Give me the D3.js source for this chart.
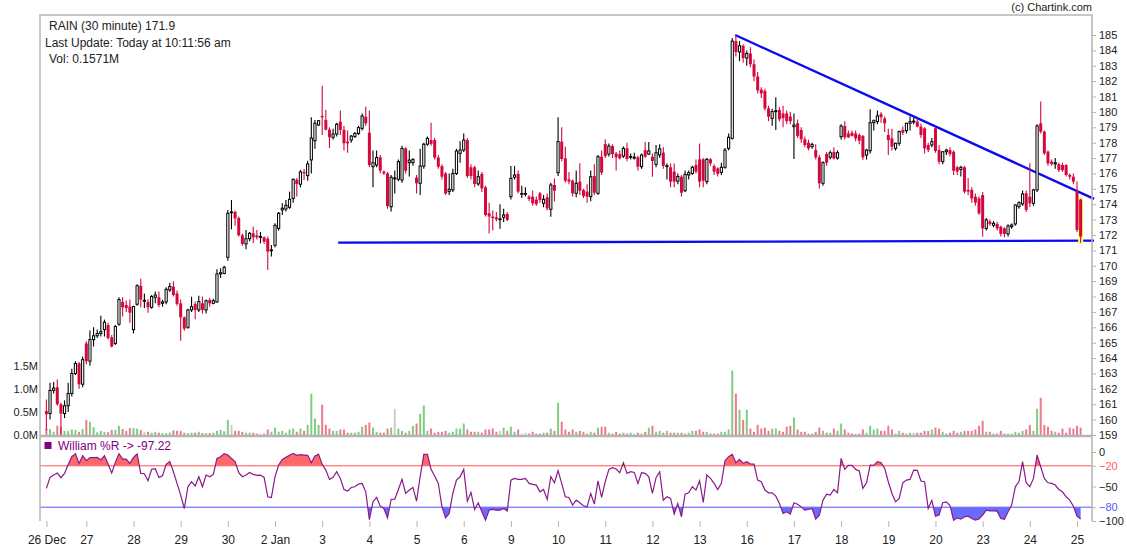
<!DOCTYPE html>
<html>
<head>
<meta charset="utf-8">
<script src="https://cdn.jsdelivr.net/npm/d3@7"></script>
<style>
  body { margin: 0; background: #fff; }
  svg { display: block; }
  text { font-family: "Liberation Sans", Arial, sans-serif; }
</style>
</head>
<body>
<svg id="chart" width="1127" height="551"></svg>
<script>
// ---- session labels (first 30-minute bar of each trading day) ----
const dayLabels = ["26 Dec","27","28","29","30","2 Jan","3","4","5","6","9","10","11","12","13","16","17","18","19","20","23","24","25"];
const dayStarts = [0,11,24,37,50,63,76,89,102,115,128,141,154,167,180,193,206,219,232,245,258,271,284];

// ---- OHLC, one row per trading day ----
const opens = [
  160.55,160.4,161.9,162.1,161.0,160.4,160.9,161.7,163.0,163.65,162.3,
  164.95,163.8,165.2,165.45,165.6,165.85,166.15,165.35,164.95,166.2,167.65,167.45,167.35,
  165.85,167.5,168.7,167.75,167.65,167.3,167.95,167.95,167.56,167.65,168.43,168.65,168.2,
  167.56,166.65,166.0,167.13,167.52,167.13,167.56,167.13,167.78,167.56,167.65,169.47,169.5,
  170.55,173.5,173.5,173.1,171.98,171.42,171.76,172.11,171.98,171.9,171.85,171.76,170.98,
  171.33,172.43,173.63,173.69,173.8,174.38,175.58,175.3,176.1,175.86,176.88,178.13,179.15,
  179.74,179.48,178.85,178.35,178.56,179.37,178.83,178.07,178.17,178.4,178.6,178.93,179.69,
  178.65,176.44,176.55,177.05,176.12,176.0,173.84,175.7,175.62,175.58,177.63,176.7,176.7,
  175.73,175.36,176.48,177.9,178.17,178.17,177.03,176.48,176.0,174.82,174.93,176.0,177.31,
  177.52,178.17,176.4,176.4,175.32,175.97,175.1,173.41,173.2,173.15,173.05,173.15,173.37,
  174.49,175.75,175.97,174.7,174.7,174.49,174.49,174.3,174.71,174.06,174.45,173.67,175.25,
  176.05,178.07,176.98,175.62,175.53,174.71,175.47,174.92,174.82,174.49,175.83,174.71,177.09,
  177.91,177.26,177.78,177.3,177.26,177.13,177.63,177.05,177.05,177.05,176.44,177.52,177.26,
  177.09,176.59,177.2,177.35,176.45,176.4,176.12,175.5,175.79,174.88,175.9,176.0,176.55,
  176.92,176.92,175.47,176.92,176.48,176.33,176.07,176.4,177.63,178.28,184.6,183.9,184.3,
  183.5,183.8,183.1,182.3,181.45,181.36,180.23,179.58,180.02,180.13,179.9,179.9,179.7,
  179.04,179.26,178.83,178.22,178.0,177.74,177.53,177.05,175.36,177.27,177.05,177.4,177.0,
  178.39,179.08,178.6,178.65,178.6,178.5,178.43,177.2,177.48,179.3,179.37,179.87,179.58,
  178.5,178.28,177.63,177.96,178.83,178.78,179.26,179.4,179.37,179.04,178.93,177.85,177.85,
  178.93,177.52,176.77,177.41,177.52,177.41,176.4,176.26,176.4,174.93,174.93,174.49,174.38,
  174.6,172.43,172.87,172.63,172.72,172.54,172.43,172.07,172.54,172.72,173.84,174.02,174.71,
  174.49,174.06,174.93,179.26,178.72,177.42,176.77,176.62,176.6,176.55,176.55,175.9,175.79,
  174.88,174.3
];
const highs = [
  161.3,162.4,162.45,162.6,161.1,161.25,162.4,163.3,163.8,163.75,164.1,
  165.1,165.8,166.0,165.85,166.75,166.5,166.3,165.5,166.15,167.95,167.95,167.75,167.8,
  167.4,168.8,169.15,168.2,167.82,168.1,168.32,168.32,167.8,168.6,168.9,169.0,168.4,
  167.8,166.7,167.2,167.98,167.67,168.05,168.0,167.8,167.9,167.85,169.77,169.84,170.0,
  173.63,174.27,173.6,173.2,172.1,172.33,172.2,172.54,172.33,172.2,171.9,171.9,171.35,
  172.76,173.5,174.06,174.27,174.82,175.68,175.7,176.23,176.29,176.83,179.65,179.48,179.48,
  181.7,180.12,179.0,178.9,179.3,180.1,179.1,178.8,178.5,178.7,179.1,179.9,180.34,
  180.1,177.5,177.5,177.2,176.2,176.1,175.9,176.2,176.9,177.8,177.7,177.5,177.0,
  175.9,177.6,178.0,178.4,179.3,178.3,177.2,176.6,176.1,176.0,176.3,177.6,178.1,
  178.6,178.3,176.6,176.5,176.2,176.1,175.2,174.1,173.6,173.5,174.0,173.7,173.5,
  176.48,176.48,176.2,175.2,175.1,174.6,174.9,174.5,174.8,174.6,174.7,175.4,175.68,
  179.65,179.0,177.74,176.1,175.6,176.2,176.66,175.0,175.3,176.2,176.6,177.2,177.5,
  178.22,177.95,177.9,177.4,177.5,177.75,178.0,177.3,177.35,177.15,177.3,178.05,178.05,
  177.3,177.85,177.9,177.7,176.65,176.65,176.65,176.0,175.9,176.2,176.2,176.5,176.9,
  177.95,177.0,177.0,177.0,176.6,176.4,176.7,177.65,178.6,184.8,185.0,184.6,184.4,
  184.0,184.2,183.4,182.6,181.6,181.5,180.4,180.2,180.95,180.3,180.4,180.1,180.0,
  179.9,179.5,179.0,178.4,178.2,178.0,177.9,177.2,176.8,177.4,177.5,177.7,177.5,
  179.2,179.4,178.8,178.8,178.8,178.6,178.5,177.6,180.17,179.5,180.1,180.0,179.7,
  178.9,178.9,178.0,178.8,179.05,179.3,179.7,179.6,179.6,179.25,179.0,178.0,178.3,
  179.04,177.85,177.45,177.6,177.7,177.5,176.5,176.5,176.5,175.7,175.1,174.7,174.5,
  174.8,173.1,173.0,172.9,172.85,172.6,172.5,172.7,172.75,174.0,174.2,174.9,174.9,
  176.66,175.0,179.2,180.67,178.8,177.5,176.9,177.0,176.7,176.7,176.6,176.0,176.0,
  175.5,174.35
];
const lows = [
  159.3,160.0,161.7,160.9,159.0,160.1,160.5,161.5,162.9,162.0,162.1,
  163.6,163.5,164.75,165.3,165.4,165.4,165.2,164.68,164.85,166.1,166.7,167.0,166.3,
  165.6,167.4,167.3,167.25,166.95,167.2,167.56,167.3,167.34,167.5,168.3,168.0,167.4,
  165.13,165.78,165.9,167.0,166.52,167.0,166.9,166.9,167.34,167.5,167.6,169.2,169.45,
  170.33,172.37,172.6,171.9,171.3,171.07,171.6,171.46,171.7,171.46,171.42,169.73,170.6,
  171.2,172.3,173.3,173.52,173.7,174.1,174.5,175.1,175.58,175.53,176.0,177.6,179.1,
  178.5,178.8,177.65,178.2,178.4,178.5,177.5,177.35,178.0,178.3,178.5,178.8,179.1,
  176.4,175.1,176.4,176.0,175.9,173.7,173.52,174.7,175.5,175.4,176.0,175.8,176.5,
  174.7,174.6,176.3,177.8,177.8,176.9,176.3,175.6,174.6,174.6,174.8,175.9,176.7,
  177.4,175.7,175.6,175.1,175.2,174.8,173.2,172.1,172.3,172.9,172.4,172.85,172.9,
  174.3,175.6,174.7,174.4,174.5,174.2,173.9,173.9,174.1,173.8,173.6,173.19,174.17,
  175.84,176.8,175.4,175.3,174.5,174.45,174.6,174.4,174.1,174.2,174.6,174.6,175.9,
  177.0,177.1,177.0,176.2,176.9,177.0,176.8,176.9,176.9,176.2,176.3,177.0,177.2,
  175.79,176.4,177.0,176.3,175.6,175.1,175.1,175.3,174.5,174.8,175.6,175.9,176.0,
  175.1,175.1,175.3,176.5,175.9,175.8,175.9,176.3,177.5,178.2,183.6,183.3,183.2,
  183.0,182.9,182.0,181.2,180.9,180.1,179.4,179.1,178.82,179.4,179.0,179.2,179.2,
  176.94,178.3,178.0,177.7,177.5,177.6,176.9,175.03,175.2,176.5,176.9,176.9,176.9,
  178.2,178.2,178.3,178.4,178.1,177.9,176.88,176.9,177.3,178.8,179.2,179.3,178.7,
  177.2,177.5,177.5,177.8,178.5,178.6,178.8,179.2,179.0,178.3,177.3,177.4,177.7,
  177.35,176.6,176.6,177.2,177.1,175.9,175.9,175.8,174.7,174.6,174.1,173.9,173.3,
  171.89,172.3,172.6,172.5,172.3,171.9,171.85,171.9,172.4,172.6,173.7,173.9,173.5,
  173.8,173.9,174.8,178.6,177.2,176.5,176.5,176.3,176.1,176.1,175.8,175.6,175.3,
  172.2,171.5
];
const closes = [
  160.35,161.9,162.05,161.0,160.4,160.9,161.7,163.0,163.65,162.3,163.9,
  163.8,165.2,165.45,165.6,165.72,166.33,165.3,164.75,166.05,167.8,167.3,167.25,166.95,
  167.35,168.7,167.8,167.75,167.3,168.0,168.1,167.45,167.65,168.47,168.65,168.1,167.52,
  166.65,165.91,167.13,167.34,167.13,167.67,167.13,167.73,167.56,167.73,169.47,169.55,169.9,
  173.41,173.5,173.08,171.98,171.42,171.76,172.11,171.85,171.85,171.9,171.57,170.92,171.03,
  172.63,173.41,173.74,173.93,174.32,175.62,175.32,176.1,176.01,176.62,178.3,179.26,179.43,
  179.65,178.85,178.35,178.56,179.2,178.83,177.96,177.96,178.43,178.6,178.98,179.73,179.26,
  176.55,176.7,177.03,176.18,176.0,173.88,175.75,175.7,176.77,177.63,176.18,176.87,176.9,
  175.36,176.48,177.9,178.28,177.92,177.03,176.44,175.79,174.7,174.97,176.0,177.46,177.52,
  178.17,175.83,175.83,175.32,175.79,175.03,173.3,173.2,173.1,173.02,173.05,173.3,172.98,
  175.68,175.9,174.82,174.7,174.7,174.34,174.06,174.0,174.28,174.32,173.73,175.25,174.88,
  178.07,176.94,175.53,175.47,174.71,175.36,174.88,174.53,174.49,175.79,174.75,177.09,176.05,
  177.13,177.78,177.26,177.05,176.98,177.63,176.94,177.1,177.05,176.44,177.2,177.09,177.46,
  176.81,177.35,177.6,176.5,176.5,175.47,175.47,175.8,174.75,175.94,176.05,176.4,176.12,
  175.47,175.53,176.92,176.66,176.12,175.97,176.4,177.52,178.35,184.6,183.9,184.3,183.5,
  183.8,183.1,182.3,181.4,181.2,180.23,179.69,180.02,180.08,179.52,179.6,179.4,179.4,
  179.15,178.44,178.22,177.85,177.63,177.89,177.05,175.36,176.7,176.7,177.35,176.98,177.35,
  179.08,178.35,178.35,178.44,178.28,178.13,177.05,177.52,179.3,179.43,179.74,179.65,179.26,
  178.17,177.74,177.96,178.72,178.65,179.26,179.37,179.4,179.04,178.5,177.63,177.52,178.07,
  177.46,176.77,177.41,177.52,177.26,176.18,176.12,176.4,174.82,174.82,174.38,174.1,173.41,
  172.43,172.98,172.72,172.76,172.43,172.07,172.07,172.59,172.65,173.95,174.1,174.67,173.63,
  174.06,174.93,179.09,178.72,177.31,176.66,176.62,176.7,176.22,176.22,175.9,175.79,175.47,
  172.33,171.9
];

// ---- traded volume per bar, in millions ----
const volumes = [
  0.14,0.13,0.07,0.2,0.18,0.09,0.09,0.12,0.11,0.07,0.13,
  0.33,0.29,0.17,0.06,0.09,0.07,0.06,0.11,0.11,0.2,0.13,0.09,0.15,
  0.15,0.14,0.11,0.07,0.07,0.05,0.07,0.05,0.04,0.04,0.05,0.1,0.09,
  0.09,0.05,0.04,0.05,0.05,0.07,0.04,0.04,0.04,0.05,0.09,0.11,0.08,
  0.33,0.22,0.09,0.09,0.07,0.05,0.05,0.05,0.03,0.03,0.03,0.12,0.07,
  0.16,0.07,0.09,0.05,0.12,0.14,0.07,0.14,0.09,0.22,0.9,0.36,0.22,
  0.66,0.22,0.14,0.09,0.09,0.12,0.12,0.05,0.05,0.05,0.07,0.18,0.22,
  0.27,0.16,0.07,0.05,0.05,0.14,0.16,0.57,0.14,0.09,0.05,0.09,0.2,
  0.25,0.46,0.64,0.09,0.14,0.05,0.07,0.07,0.09,0.05,0.07,0.14,0.14,
  0.25,0.12,0.07,0.07,0.07,0.05,0.12,0.12,0.14,0.07,0.09,0.16,0.09,
  0.18,0.07,0.12,0.03,0.05,0.03,0.07,0.03,0.03,0.05,0.05,0.14,0.09,
  0.7,0.29,0.12,0.07,0.12,0.07,0.09,0.07,0.03,0.07,0.05,0.16,0.18,
  0.18,0.05,0.03,0.07,0.03,0.05,0.03,0.05,0.03,0.05,0.03,0.07,0.16,
  0.2,0.07,0.09,0.05,0.09,0.05,0.05,0.05,0.05,0.03,0.05,0.09,0.09,
  0.12,0.07,0.07,0.03,0.03,0.03,0.07,0.07,0.12,1.4,0.9,0.55,0.33,
  0.55,0.14,0.07,0.22,0.14,0.16,0.09,0.14,0.14,0.09,0.07,0.18,0.2,
  0.38,0.12,0.07,0.07,0.03,0.03,0.07,0.16,0.09,0.05,0.05,0.14,0.09,
  0.25,0.12,0.05,0.03,0.02,0.03,0.12,0.05,0.2,0.12,0.14,0.09,0.09,
  0.2,0.12,0.03,0.09,0.05,0.03,0.05,0.05,0.05,0.05,0.09,0.09,0.12,
  0.16,0.14,0.07,0.03,0.05,0.09,0.05,0.07,0.09,0.09,0.09,0.12,0.2,
  0.31,0.07,0.07,0.03,0.03,0.09,0.03,0.03,0.03,0.07,0.05,0.09,0.12,
  0.22,0.09,0.57,0.81,0.22,0.18,0.09,0.07,0.05,0.14,0.05,0.16,0.14,
  0.2,0.16
];

// ---- Williams %R (14) per bar ----
const williamsR = [
  -52.8,-36.8,-33.4,-30.5,-37.3,-31,-18,-6.8,-2.4,-16.5,-5.3,
  -12.6,-8.2,-8.2,-7.8,-11.6,-5.3,-17.4,-30.5,-15,-2.4,-10.2,-10.2,-16.5,
  -7.8,-2.9,-31,-31.5,-41.7,-25.2,-24.2,-36.8,-34.4,-17.9,-13.6,-28.6,-45.5,
  -62.5,-81.9,-50.4,-43.1,-49.4,-35.9,-50.4,-33.4,-35.9,-32.5,-9.2,-6.8,-2.4,
  -4.4,-9.2,-14,-30,-35.9,-33.4,-29.6,-32.5,-33.9,-33.4,-36.8,-64.9,-65.9,
  -35.9,-18.9,-10.7,-7.8,-4.8,-1.9,-4.8,-3.9,-4.4,-4.8,-15.5,-5.8,-3.4,
  -17.9,-26.2,-39.7,-36.8,-28.6,-38.3,-54.3,-56.7,-51.4,-50.4,-46.5,-45.5,-57.7,
  -97.9,-72.2,-65.9,-78.5,-81.9,-95.4,-68.8,-68.3,-54.3,-39.7,-60.1,-55.2,-51.4,
  -71.2,-35.9,-3.4,-3.4,-25.2,-34.9,-45.5,-79.5,-95.4,-89.1,-60.1,-40.7,-35.9,
  -25.2,-71.2,-58.6,-83.3,-73.6,-86.7,-98.8,-84.3,-83.3,-84.3,-84.3,-81.9,-85.3,
  -40.7,-38.3,-39.7,-39.7,-38.3,-45.5,-47,-48,-57.7,-54.3,-68.8,-35.9,-44.6,
  -27,-45.5,-64.9,-65.9,-77,-69.8,-73.6,-78,-79.5,-60.1,-75.6,-41.7,-65.9,
  -43.1,-25.2,-22.8,-24.7,-30,-15.5,-31,-28.6,-29.6,-45.5,-30,-31,-35.9,
  -60.1,-37.3,-28.6,-69.8,-64.9,-67.3,-90.1,-74.6,-94,-61,-59.1,-50.4,-55.2,
  -41.7,-73.2,-33.4,-38.3,-45.5,-54.3,-45.5,-12.6,-6.8,-3.4,-15.5,-10.7,-16.5,
  -14,-17.4,-17.4,-40.7,-43.1,-55.2,-59.1,-59.1,-64,-74.6,-89.1,-86.7,-90.1,
  -73.6,-75.6,-79.5,-84.3,-83.3,-81.9,-97.4,-91.6,-69.8,-61,-62.5,-54.3,-59.1,
  -9.2,-25.2,-19.4,-19.4,-25.2,-27.6,-52.8,-44.6,-18.9,-19.4,-14,-15.5,-23.7,
  -43.1,-60.1,-72.2,-67.3,-44.6,-40.7,-39.7,-26.2,-26.5,-42,-43,-82,-70,
  -93,-91.5,-73.6,-72.2,-77.5,-98.8,-95.4,-97.4,-94,-93,-96.4,-98.8,-96.9,
  -91.6,-84.3,-85.3,-85.3,-85.7,-96.4,-97.4,-86.7,-77,-50.4,-43.1,-14,-44.6,
  -50.4,-38.3,-4.4,-21.3,-38.3,-44.6,-45.5,-47.9,-54.3,-57.7,-64.9,-69.8,-78.5,
  -93,-97.22
];

// ---- axis ticks and reference levels ----
const priceTicks = d3.range(159, 186);
const volumeTicks = [0, 0.5, 1.0, 1.5];
const wrTicks = [0, -20, -50, -80, -100];
const wrUpper = -20, wrLower = -80;

// hand-drawn trend lines: [bar index, price]
const resistanceLine = [[189.8, 185.0], [288.7, 174.35]];
const supportLine = [[80.4, 171.5], [288.7, 171.63]];

// ---------------------------------------------------------------
const svg = d3.select("#chart");
const frame = { left: 40, right: 1092, top: 15, split: 436, bottom: 521 };
const RED = "#d4083c", GRID = "#b4b4b4";

const x = d3.scaleLinear().domain([0, 284]).range([46.4, 1077]);
const yP = d3.scaleLinear().domain([159, 185]).range([435, 35]);
const yV = d3.scaleLinear().domain([0, 1.5]).range([435, 366]);
const yR = d3.scaleLinear().domain([-100, 0]).range([521, 452]);

const bars = opens.map((o, i) => ({ i, o, h: highs[i], l: lows[i], c: closes[i], v: volumes[i] }));
const dir = d => d.c > d.o ? "up" : (d.c < d.o ? "down" : "flat");

// header
const hdr = svg.append("g").attr("font-size", 12).attr("fill", "#222");
hdr.append("text").attr("x", 49).attr("y", 30).text("RAIN (30 minute) 171.9");
hdr.append("text").attr("x", 45).attr("y", 47).text("Last Update: Today at 10:11:56 am");
hdr.append("text").attr("x", 49).attr("y", 63).text("Vol: 0.1571M");
svg.append("text").attr("x", 1092).attr("y", 10.5).attr("text-anchor", "end")
  .attr("font-size", 11).attr("fill", "#222").text("(c) Chartink.com");

// volume bars
const volColor = { up: "#80cc80", down: "#eb7a8e", flat: "#cccccc" };
svg.append("g").selectAll("rect").data(bars).join("rect")
  .attr("x", d => x(d.i) - 1)
  .attr("width", 2)
  .attr("y", d => yV(d.v))
  .attr("height", d => yV(0) - yV(d.v))
  .attr("fill", d => volColor[dir(d)]);

// trend lines
const tl = d3.line().x(d => x(d[0])).y(d => yP(d[1]));
svg.append("g").selectAll("path").data([resistanceLine, supportLine]).join("path")
  .attr("d", tl).attr("stroke", "#0a0af0").attr("stroke-width", 2.3).attr("fill", "none");

// latest bar highlight
const last = bars[bars.length - 1];
svg.append("rect")
  .attr("x", x(last.i) - 2.5).attr("width", 5)
  .attr("y", yP(Math.max(last.o, last.h)) - 1)
  .attr("height", yP(last.l) - yP(last.h) + 2)
  .attr("fill", "#ffff70");

// candles
const cg = svg.append("g");
const candle = cg.selectAll("g").data(bars).join("g");
candle.append("line")
  .attr("x1", d => x(d.i)).attr("x2", d => x(d.i))
  .attr("y1", d => yP(d.h)).attr("y2", d => yP(d.l))
  .attr("stroke", d => dir(d) === "down" ? RED : "#000")
  .attr("stroke-width", 1.1);
candle.append("rect")
  .attr("x", d => x(d.i) - (dir(d) === "down" ? 1.5 : 1.1))
  .attr("width", d => dir(d) === "down" ? 3 : 2.2)
  .attr("y", d => yP(Math.max(d.o, d.c)))
  .attr("height", d => Math.max(0.8, Math.abs(yP(d.o) - yP(d.c))))
  .attr("fill", d => dir(d) === "down" ? RED : "#fff")
  .attr("stroke", d => dir(d) === "down" ? "none" : "#000")
  .attr("stroke-width", 1);

// Williams %R panel
const line = d3.line().x((d, i) => x(i)).y(d => yR(d));
const clipTop = svg.append("clipPath").attr("id", "wrTop");
clipTop.append("rect").attr("x", 0).attr("y", 0).attr("width", 1127).attr("height", yR(wrUpper));
const clipBot = svg.append("clipPath").attr("id", "wrBot");
clipBot.append("rect").attr("x", 0).attr("y", yR(wrLower)).attr("width", 1127).attr("height", 100);
svg.append("path").datum(williamsR)
  .attr("d", d3.area().x((d, i) => x(i)).y0(yR(wrUpper)).y1(d => yR(d)))
  .attr("fill", "#ff6868").attr("clip-path", "url(#wrTop)");
svg.append("path").datum(williamsR)
  .attr("d", d3.area().x((d, i) => x(i)).y0(yR(wrLower)).y1(d => yR(d)))
  .attr("fill", "#6a6aff").attr("clip-path", "url(#wrBot)");
svg.append("line").attr("x1", frame.left).attr("x2", frame.right)
  .attr("y1", yR(wrUpper)).attr("y2", yR(wrUpper)).attr("stroke", "#ff5a5a").attr("stroke-width", 1);
svg.append("line").attr("x1", frame.left).attr("x2", frame.right)
  .attr("y1", yR(wrLower)).attr("y2", yR(wrLower)).attr("stroke", "#5a5aff").attr("stroke-width", 1);
svg.append("path").datum(williamsR).attr("d", line)
  .attr("fill", "none").attr("stroke", "#8a1a8a").attr("stroke-width", 1.2);

// legend
svg.append("rect").attr("x", 44.5).attr("y", 442).attr("width", 7).attr("height", 7).attr("fill", "#800080");
svg.append("text").attr("x", 58).attr("y", 450).attr("font-size", 12).attr("fill", "#800080")
  .text("William %R -> -97.22");

// frame
const fr = svg.append("g").attr("stroke", GRID).attr("fill", "none");
fr.append("path").attr("stroke-width", 1.5)
  .attr("d", `M${frame.left},${frame.bottom}V${frame.top}H${frame.right}V${frame.bottom}`);
fr.append("line").attr("x1", frame.left).attr("x2", frame.right)
  .attr("y1", frame.split).attr("y2", frame.split).attr("stroke-width", 2.5);

// price axis (right)
const pa = svg.append("g").attr("transform", `translate(${frame.right},0)`)
  .call(d3.axisRight(yP).tickValues(priceTicks).tickSize(4).tickPadding(3).tickFormat(d3.format("d")));
pa.select(".domain").remove();
pa.selectAll("line").attr("stroke", GRID);
pa.selectAll("text").attr("font-size", 11).attr("fill", "#222").attr("font-family", "Liberation Sans, Arial, sans-serif");

// volume axis (left)
const va = svg.append("g").attr("transform", `translate(${frame.left - 2},0)`)
  .call(d3.axisLeft(yV).tickValues(volumeTicks).tickSize(0).tickPadding(0).tickFormat(d => d.toFixed(1) + "M"));
va.select(".domain").remove();
va.selectAll("text").attr("font-size", 11).attr("fill", "#222").attr("font-family", "Liberation Sans, Arial, sans-serif");

// %R axis (right)
const ra = svg.append("g").attr("transform", `translate(${frame.right},0)`)
  .call(d3.axisRight(yR).tickValues(wrTicks).tickSize(4).tickPadding(3));
ra.select(".domain").remove();
ra.selectAll("line").attr("stroke", GRID);
ra.selectAll("text").attr("font-size", 11).attr("font-family", "Liberation Sans, Arial, sans-serif")
  .attr("fill", d => d === wrUpper ? "#ff5a5a" : (d === wrLower ? "#5a5aff" : "#222"));

// time axis
const ta = svg.append("g").attr("transform", `translate(0,${frame.bottom})`)
  .call(d3.axisBottom(x).tickValues(dayStarts).tickSize(6).tickPadding(8)
    .tickFormat((d, k) => dayLabels[k]));
ta.select(".domain").remove();
ta.selectAll("line").attr("stroke", GRID);
ta.selectAll("text").attr("font-size", 12).attr("fill", "#222").attr("font-family", "Liberation Sans, Arial, sans-serif");
</script>
</body>
</html>
